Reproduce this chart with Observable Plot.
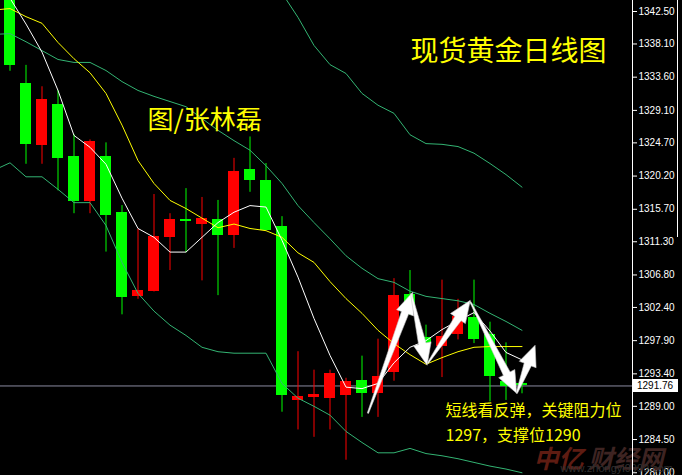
<!DOCTYPE html>
<html><head><meta charset="utf-8">
<script src="https://cdn.jsdelivr.net/npm/d3@7"></script>
<script src="https://cdn.jsdelivr.net/npm/@observablehq/plot@0.6"></script>
<style>
html,body{margin:0;padding:0;background:#000;overflow:hidden;}
#chart{width:682px;height:475px;}
</style></head><body><div id="chart"></div>
<script>
// ---- data ----
const candleOpen  = [1346.0,1332.7,1324.4,1329.9,1322.8,1316.8,1322.9,1315.3,1303.9,1304.6,1311.9,1314.3,1313.6,1314.3,1312.1,1321.1,1319.6,1313.4,1289.8,1290.2,1290.1,1290.4,1292.5,1290.8,1293.6,1304.2,1298.3,1297.1,1298.7,1301.1,1298.7,1292.4,1292.1];
const candleHigh  = [1347.5,1335.2,1332.3,1331.8,1325.8,1325.1,1324.7,1316.2,1313.0,1317.7,1315.1,1318.5,1317.3,1316.9,1322.6,1325.5,1321.9,1314.7,1296.4,1293.9,1293.9,1292.8,1295.8,1298.1,1306.3,1307.4,1300.0,1306.1,1303.5,1306.1,1300.4,1297.6,1292.3];
const candleLow   = [1334.4,1321.8,1321.8,1318.2,1315.1,1315.1,1309.9,1301.4,1303.5,1304.5,1307.4,1309.8,1306.0,1304.0,1310.4,1318.0,1312.8,1288.2,1285.8,1284.8,1285.8,1281.7,1287.5,1287.5,1292.4,1301.3,1296.8,1292.9,1298.0,1297.5,1289.6,1289.8,1290.7];
const candleClose = [1335.2,1324.5,1330.6,1322.6,1316.8,1324.9,1314.8,1303.7,1304.7,1312.0,1314.3,1314.0,1314.4,1312.1,1320.8,1319.6,1312.8,1290.5,1290.3,1290.6,1293.5,1292.3,1290.8,1293.0,1304.0,1302.4,1297.4,1298.5,1301.2,1298.1,1293.1,1291.7,1291.76];

// indicator lines, first value belongs to the bar before the first candle
const lineStartIndex = -1;
const maWhite  = [1347.0,1344.3,1340.8,1337.0,1331.8,1325.7,1324.1,1321.8,1317.2,1313.1,1311.9,1309.9,1309.9,1311.9,1313.9,1315.3,1316.2,1316.0,1311.5,1306.5,1300.9,1295.9,1291.6,1291.4,1292.1,1294.9,1297.0,1297.9,1299.4,1300.6,1301.7,1299.2,1296.3,1295.3];
const maYellow = [1342.7,1342.9,1341.8,1340.9,1338.3,1336.1,1334.2,1331.4,1327.1,1322.3,1319.2,1316.9,1315.8,1314.5,1313.2,1313.7,1313.1,1312.8,1311.9,1309.8,1308.5,1305.9,1303.6,1301.6,1299.3,1297.5,1296.0,1294.7,1295.6,1296.4,1297.0,1297.1,1297.1,1297.1];
const bollUpper = [1357.8,1357.0,1356.7,1354.3,1353.6,1354.6,1354.6,1355.6,1357.9,1359.2,1360.0,1360.8,1360.6,1359.0,1356.3,1353.8,1351.2,1347.0,1345.0,1341.7,1337.9,1335.3,1334.1,1331.4,1329.8,1328.7,1325.8,1324.6,1324.5,1324.2,1323.3,1321.9,1320.4,1318.7];
const bollMid   = [1339.4,1339.5,1338.4,1337.2,1336.0,1335.6,1335.6,1334.5,1333.0,1331.8,1331.0,1330.3,1329.6,1328.0,1326.4,1325.0,1323.7,1321.6,1319.2,1316.2,1313.9,1311.7,1309.4,1307.7,1306.3,1305.8,1304.6,1303.9,1303.6,1303.3,1302.8,1301.6,1300.5,1299.3];
const bollLower = [1321.0,1322.0,1320.1,1320.1,1318.4,1316.6,1316.6,1313.5,1308.5,1304.3,1301.9,1300.0,1298.6,1297.0,1296.4,1296.2,1296.2,1296.2,1292.1,1290.1,1289.0,1287.8,1285.6,1284.1,1282.7,1282.7,1283.3,1282.6,1282.3,1281.9,1281.4,1280.9,1280.5,1280.0];

const yTickValues = [1342.50,1338.10,1333.60,1329.10,1324.70,1320.20,1315.70,1311.30,1306.80,1302.40,1297.90,1293.40,1289.00,1284.50,1280.00];
const lastPrice = 1291.76;

// zig-zag arrows drawn on the chart (bar index, price)
const arrowTailIndex = [22.4, 25.1, 26.15, 28.8, 31.7];
const arrowTailPrice = [1288.0, 1304.2, 1294.8, 1303.1, 1290.7];
const arrowHeadIndex = [25.2, 26.1, 28.8, 31.7, 32.85];
const arrowHeadPrice = [1304.4, 1294.5, 1303.3, 1290.7, 1297.2];

const titleText = ["现货黄金日线图"];
const authorText = ["图/张林磊"];
const noteLine1 = ["短线看反弹，关键阻力位"];
const noteLine2 = ["1297，支撑位1290"];
const watermarkA = ["中亿"];
const watermarkB = ["财经网"];
const watermarkUrl = ["www.zhongyi9999.com"];

// ---- build ----
const candles = candleOpen.map((o, i) => ({i, o, h: candleHigh[i], l: candleLow[i], c: candleClose[i]}));
const ups = candles.filter(d => d.c >= d.o);
const downs = candles.filter(d => d.c < d.o);
const lineIdx = maWhite.map((_, k) => k + lineStartIndex);

const RED = "#ff0000", GREEN = "#00ff00", BAND = "#33b473", YEL = "#ffff00";
const slot = 16, plotW = 632, firstCenter = 9.5;
const xDomain = [-firstCenter / slot, (plotW - firstCenter) / slot];
const pxPerUnit = 7.38;
const yDomain = [1342.5 - (475 - 11) / pxPerUnit, 1342.5 + 11 / pxPerUnit];
const halfBody = 0.34;

const lineMark = (vals, stroke) => Plot.line(lineIdx, {x: d => d, y: (d, k) => vals[k], stroke, strokeWidth: 1, clip: true});

function arrowsMark(index, scales) {
  const ns = "http://www.w3.org/2000/svg";
  const g = document.createElementNS(ns, "g");
  for (let k = 0; k < arrowTailIndex.length; k++) {
    const x0 = scales.x(arrowTailIndex[k]), y0 = scales.y(arrowTailPrice[k]);
    const x1 = scales.x(arrowHeadIndex[k]), y1 = scales.y(arrowHeadPrice[k]);
    const dx = x1 - x0, dy = y1 - y0, len = Math.hypot(dx, dy);
    const ux = dx / len, uy = dy / len, nx = -uy, ny = ux;
    const headLen = Math.min(22, len * 0.4), headW = 9, neckW = 3.8, tailW = 0.6;
    const bx = x1 - ux * headLen, by = y1 - uy * headLen;
    const pts = [
      [x0 + nx * tailW, y0 + ny * tailW],
      [bx + nx * neckW, by + ny * neckW],
      [bx + nx * headW, by + ny * headW],
      [x1, y1],
      [bx - nx * headW, by - ny * headW],
      [bx - nx * neckW, by - ny * neckW],
      [x0 - nx * tailW, y0 - ny * tailW]
    ];
    const p = document.createElementNS(ns, "path");
    p.setAttribute("d", "M" + pts.map(q => q[0].toFixed(1) + "," + q[1].toFixed(1)).join("L") + "Z");
    p.setAttribute("fill", "#ffffff");
    p.setAttribute("stroke", "#c8c8c8");
    p.setAttribute("stroke-width", "0.6");
    g.appendChild(p);
  }
  return g;
}

const cjk = "Noto Sans CJK SC, sans-serif";
const txt = (data, dx, dy, size, fill, extra = {}) =>
  Plot.text(data, {text: d => d, frameAnchor: "top-left", dx, dy, textAnchor: "start", lineAnchor: "middle", fill, fontSize: size, fontFamily: cjk, ...extra});

const chart = Plot.plot({
  width: 682, height: 475,
  marginLeft: 0, marginRight: 50, marginTop: 0, marginBottom: 0,
  style: {background: "#000", color: "#fff", fontFamily: "Liberation Sans, Arial, sans-serif", fontSize: "10px"},
  x: {domain: xDomain, axis: null},
  y: {domain: yDomain, axis: "right", ticks: yTickValues, tickFormat: d => d.toFixed(2), tickSize: 4, tickPadding: 2, label: null},
  marks: [
    txt(watermarkA, 533, 459, 25, "#5e1c12", {fontStyle: "italic", fontWeight: "bold"}),
    txt(watermarkB, 588, 459, 25, "#3e2422", {fontStyle: "italic", fontWeight: "bold"}),
    txt(watermarkUrl, 560, 468, 11, "#303030", {fontFamily: "Liberation Sans, Arial, sans-serif"}),
    Plot.ruleY([lastPrice], {stroke: "#8a8aa0"}),
    Plot.ruleX([xDomain[1]], {stroke: "#ffffff"}),
    Plot.ruleX(ups, {x: "i", y1: "l", y2: "h", stroke: RED, clip: true}),
    Plot.ruleX(downs, {x: "i", y1: "l", y2: "h", stroke: GREEN, clip: true}),
    Plot.rect(ups, {x1: d => d.i - halfBody, x2: d => d.i + halfBody, y1: "o", y2: "c", fill: RED, shapeRendering: "crispEdges", clip: true}),
    Plot.rect(downs, {x1: d => d.i - halfBody, x2: d => d.i + halfBody, y1: "o", y2: "c", fill: GREEN, shapeRendering: "crispEdges", clip: true}),
    lineMark(bollUpper, BAND),
    lineMark(bollMid, BAND),
    lineMark(bollLower, BAND),
    lineMark(maYellow, YEL),
    lineMark(maWhite, "#ffffff"),
    arrowsMark,
    txt(titleText, 410, 52, 28, YEL),
    txt(authorText, 147, 120, 26, YEL),
    txt(noteLine1, 445, 410, 16, YEL),
    txt(noteLine2, 445, 435, 16, YEL)
  ]
});
document.getElementById("chart").appendChild(chart);

// current-price label box on the price axis, positioned through the chart's own y scale
const yPos = Math.round(chart.scale("y").apply(lastPrice));
const lab = d3.select(chart).append("g").attr("text-anchor", "start");
lab.append("rect").attr("x", 633).attr("y", yPos - 6).attr("width", 45).attr("height", 13).attr("fill", "#ffffff");
lab.append("text").attr("x", 637).attr("y", yPos + 4).attr("fill", "#000000").attr("text-anchor", "start")
  .attr("font-size", 10).attr("font-family", "Liberation Sans, Arial, sans-serif").text(lastPrice.toFixed(2));
// thin window border at the top right of the price panel
d3.select(chart).append("line").attr("x1", 677.5).attr("x2", 677.5).attr("y1", 0).attr("y2", 237)
  .attr("stroke", "#ffffff").attr("stroke-width", 1);
</script>
</body></html>
